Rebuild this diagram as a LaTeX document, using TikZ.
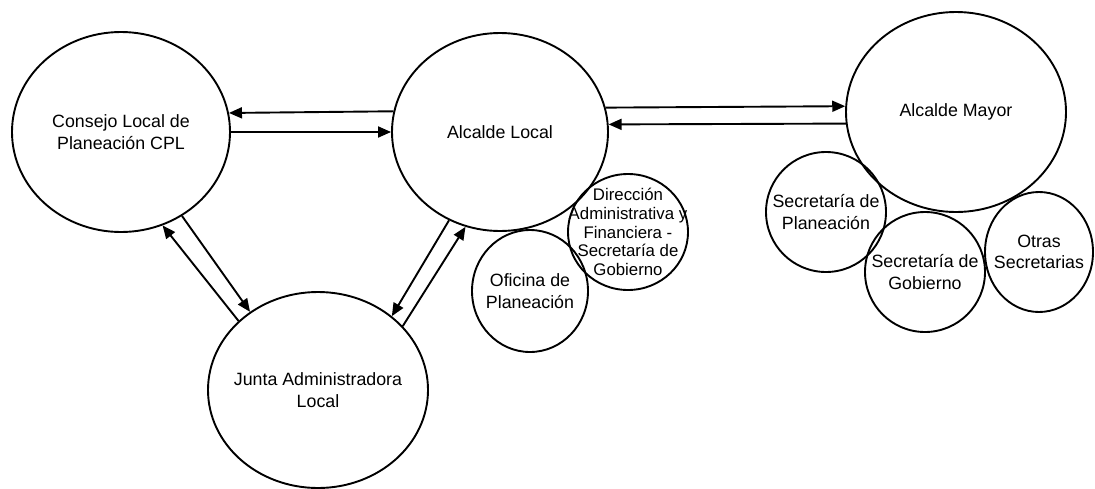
\documentclass[tikz,border=0pt]{standalone}
\usepackage{fontspec}
\setmainfont{Liberation Sans}
\usetikzlibrary{shapes.geometric,arrows.meta}
\begin{document}
\begin{tikzpicture}[x=1pt,y=-1pt,
  ent/.style={draw, ellipse, line width=1.9pt, inner sep=0pt},
  txt/.style={font=\fontsize{17.8}{21.5}\selectfont, align=center, inner sep=0pt},
  stxt/.style={font=\fontsize{16.8}{18.7}\selectfont, align=center, inner sep=0pt},
  conn/.style={line width=1.9pt, -{Triangle[length=13pt,width=11pt]}}]
\useasboundingbox (0,0) rectangle (1095,488);
% main entities
\node[ent, minimum width=218pt, minimum height=200pt,
  label={[txt]center:{Consejo Local de\\Planeación CPL}}] (cpl) at (121,132) {};
\node[ent, minimum width=216pt, minimum height=198pt,
  label={[txt]center:{Alcalde Local}}] (al) at (500,132) {};
\node[ent, minimum width=220pt, minimum height=200pt,
  label={[txt]center:{Alcalde Mayor}}] (am) at (956,112) {};
\node[ent, minimum width=220pt, minimum height=196pt,
  label={[txt]center:{Junta Administradora\\Local}}] (jal) at (318,390) {};
% dependencies
\node[ent, minimum width=116pt, minimum height=122pt,
  label={[txt]center:{Oficina de\\Planeación}}] (ofi) at (530,291) {};
\node[ent, minimum width=120pt, minimum height=116pt,
  label={[stxt]center:{Dirección\\Administrativa y\\Financiera -\\Secretaría de\\Gobierno}}] (dir) at (628,232) {};
\node[ent, minimum width=120pt, minimum height=120pt,
  label={[txt]center:{Secretaría de\\Planeación}}] (sp) at (826,212) {};
\node[ent, minimum width=120pt, minimum height=120pt,
  label={[txt]center:{Secretaría de\\Gobierno}}] (sg) at (925,272) {};
\node[ent, minimum width=108pt, minimum height=120pt,
  label={[txt]center:{Otras\\Secretarias}}] (os) at (1039,252) {};
% connectors
\draw[conn] (al.169.84) -- (cpl.10.07);
\draw[conn] (cpl.-0.5) -- (al.180.5);
\draw[conn] (al.13.45) -- (am.177.4);
\draw[conn] (am.186.27) -- (al.4.25);
\draw[conn] (jal.139.6) -- (cpl.-66.6);
\draw[conn] (cpl.-54.6) -- (jal.131.4);
\draw[conn] (al.-120) -- (jal.45.8);
\draw[conn] (jal.37.6) -- (al.-110.8);
\end{tikzpicture}
\end{document}
